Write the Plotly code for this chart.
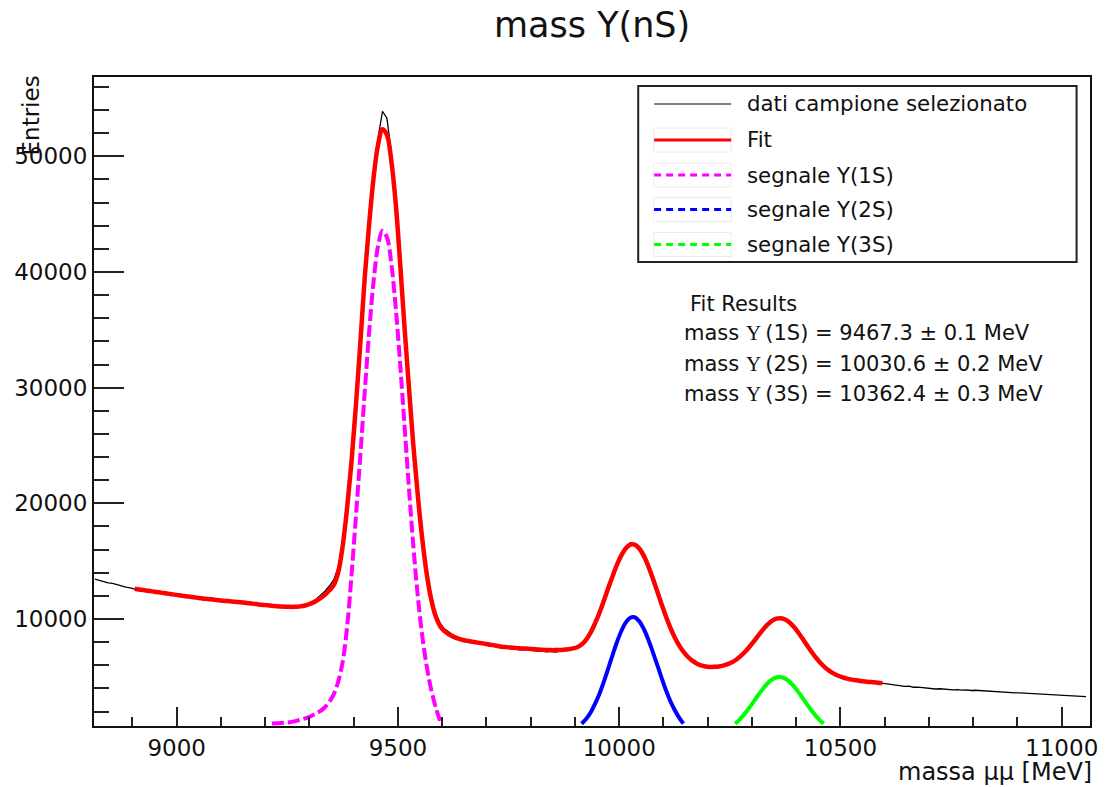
import plotly.graph_objects as go

# ---------------- data ----------------
# selected sample, 10 MeV bins starting at 8815 MeV (bin centres)
data_start = 8815
data_step = 10
data_counts = [
    13450, 13330, 13270, 13120, 13080, 12960, 12900, 12760, 12700, 12580,
    12590, 12470, 12480, 12390, 12360, 12250, 12300, 12160, 12120, 12060,
    11940, 12010, 11870, 11880, 11760, 11780, 11650, 11700, 11560, 11600,
    11520, 11560, 11450, 11490, 11380, 11400, 11300, 11270, 11230, 11150,
    11160, 11060, 11100, 11010, 11080, 10990, 11090, 11160, 11300, 11450,
    11700, 12050, 12400, 12850, 13400, 14500, 16700, 19900, 23800, 28600,
    34000, 39800, 44600, 48600, 51600, 53900, 53300, 50300, 46300, 41000,
    35300, 30200, 25200, 21000, 17300, 14300, 12100, 10550, 9650, 9150,
    8850, 8600, 8400, 8220, 8150, 8010, 8020, 7900, 7880, 7780,
    7700, 7620, 7560, 7470, 7420, 7400, 7330, 7350, 7290, 7260,
    7230, 7240, 7170, 7200, 7150, 7210, 7250, 7340, 7440, 7570,
    7850, 8230, 8760, 9650, 10480, 11600, 12620, 13750, 14680, 15580,
    16150, 16600, 16480, 16150, 15450, 14700, 13580, 12550, 11320, 10300,
    9350, 8420, 7780, 7120, 6760, 6380, 6120, 6020, 5880, 5830,
    5890, 5870, 6000, 6070, 6300, 6480, 6850, 7160, 7650, 8080,
    8640, 9050, 9540, 9800, 10080, 10120, 9930, 9720, 9270, 8840,
    8230, 7730, 7120, 6670, 6170, 5850, 5490, 5300, 5060, 4970,
    4820, 4790, 4680, 4660, 4580, 4590, 4510, 4500, 4440, 4400,
    4330, 4260, 4220, 4170, 4190, 4100, 4110, 4060, 4020, 4010,
    3950, 3970, 3920, 3910, 3880, 3900, 3850, 3870, 3820, 3840,
    3810, 3780, 3800, 3730, 3700, 3720, 3660, 3650, 3620, 3610,
    3590, 3560, 3570, 3530, 3520, 3520, 3470, 3460, 3440, 3420,
    3400, 3380, 3360, 3330, 3290,
]

# total fit, sampled every 10 MeV from 8905 MeV
fit_start = 8905
fit_step = 10
fit_counts = [
    12610, 12550, 12500, 12440, 12390, 12330, 12280, 12220, 12170, 12110,
    12050, 12000, 11950, 11900, 11850, 11790, 11750, 11710, 11670, 11620,
    11580, 11550, 11510, 11480, 11440, 11400, 11360, 11310, 11260, 11220,
    11180, 11140, 11110, 11080, 11060, 11050, 11050, 11070, 11120, 11220,
    11370, 11560, 11800, 12090, 12480, 12950, 14050, 16300, 19600, 23600,
    28500, 33900, 39600, 44200, 48200, 51000, 52350, 51850, 49600, 45900,
    40700, 35100, 29900, 24900, 20600, 16900, 13900, 11700, 10250, 9400,
    8950, 8680, 8480, 8330, 8210, 8120, 8050, 7990, 7930, 7870,
    7800, 7740, 7670, 7610, 7570, 7530, 7500, 7470, 7450, 7430,
    7400, 7370, 7340, 7320, 7310, 7310, 7320, 7340, 7390, 7460,
    7560, 7800, 8200, 8800, 9600, 10500, 11550, 12650, 13700, 14700,
    15520, 16120, 16430, 16430, 16110, 15500, 14640, 13610, 12500, 11370,
    10280, 9300, 8450, 7740, 7170, 6735, 6400, 6160, 5990, 5900,
    5860, 5865, 5901, 5974, 6092, 6264, 6502, 6809, 7187, 7625,
    8107, 8604, 9083, 9506, 9830, 10026, 10071, 9958, 9694, 9302,
    8811, 8264, 7699, 7149, 6643, 6197, 5822, 5516, 5276, 5090,
    4949, 4843, 4762, 4699, 4648, 4604, 4564, 4528, 4490, 4456,
]

# Y(1S) signal, every 10 MeV from 9215 MeV
s1_start = 9215
s1_counts = [960, 985, 1010, 1040, 1080, 1150, 1250, 1350, 1480, 1640,
             1840, 2050, 2370, 2850, 3500, 4600, 6300, 9300, 13800, 18900,
             24200, 29700, 34900, 39250, 42260, 43560, 43000, 40700, 36900, 32000,
             26600, 21200, 16200, 11900, 8500, 5900, 3900, 2400, 1200]

# Y(2S) signal, every 10 MeV from 9915 MeV
s2_start = 9915
s2_counts = [950, 1350, 1900, 2650, 3500, 4550, 5700, 6885, 8010, 8985,
             9710, 10110, 10150, 9820, 9180, 8300, 7250, 6150, 5000, 3900,
             2950, 2150, 1500, 950]

# Y(3S) signal, every 10 MeV from 10262 MeV
s3_start = 10262
s3_counts = [956, 1307, 1733, 2220, 2752, 3301, 3830, 4301, 4671, 4908,
             4990, 4908, 4671, 4301, 3830, 3301, 2752, 2220, 1733, 1307, 956]

legend_labels = ["dati campione selezionato", "Fit", "segnale Y(1S)",
                 "segnale Y(2S)", "segnale Y(3S)"]
fit_title = "Fit Results"
UPS = "<span style=\"font-family:'Liberation Serif'\">Υ</span>\u2009"
fit_lines = ["mass " + UPS + "(1S) = 9467.3 ± 0.1 MeV",
             "mass " + UPS + "(2S) = 10030.6 ± 0.2 MeV",
             "mass " + UPS + "(3S) = 10362.4 ± 0.3 MeV"]


def grid(start, step, values):
    return [start + step * i for i in range(len(values))]


# ---------------- figure ----------------
W, H = 1110, 787
L, R, T, B = 94, 1096, 77, 726
FONT = "DejaVu Sans"


def px(x):
    return (x - L) / (R - L)


def py(y):
    return (B - y) / (B - T)


fig = go.Figure()
fig.add_trace(go.Scatter(x=grid(data_start, data_step, data_counts), y=data_counts,
                         mode="lines", line=dict(color="black", width=1.3),
                         showlegend=False, name=legend_labels[0]))
fig.add_trace(go.Scatter(x=grid(fit_start, fit_step, fit_counts), y=fit_counts,
                         mode="lines",
                         line=dict(color="#ff0000", width=4.5, shape="spline"),
                         showlegend=False, name=legend_labels[1]))
fig.add_trace(go.Scatter(x=grid(s1_start, 10, s1_counts), y=s1_counts, mode="lines",
                         line=dict(color="#ff00ff", width=4, shape="spline",
                                   dash="12px,4px"),
                         showlegend=False, name=legend_labels[2]))
fig.add_trace(go.Scatter(x=grid(s2_start, 10, s2_counts), y=s2_counts, mode="lines",
                         line=dict(color="#0000ff", width=4, shape="spline"),
                         showlegend=False, name=legend_labels[3]))
fig.add_trace(go.Scatter(x=grid(s3_start, 10, s3_counts), y=s3_counts, mode="lines",
                         line=dict(color="#00ff00", width=4, shape="spline"),
                         showlegend=False, name=legend_labels[4]))

shapes = []
annotations = []

# legend box
shapes.append(dict(type="rect", xref="paper", yref="paper",
                   x0=px(641.5), x1=px(1082.5), y0=py(262), y1=py(86),
                   line=dict(color="#222", width=2), fillcolor="white", layer="above"))
row_y = [104, 140, 175, 209.5, 244.5]
styles = [dict(color="black", width=1.2, dash="solid"),
          dict(color="#ff0000", width=3, dash="solid"),
          dict(color="#ff00ff", width=3, dash="7px,5px"),
          dict(color="#0000ff", width=3, dash="7px,5px"),
          dict(color="#00ff00", width=3, dash="7px,5px")]
for i, (yy, st, lab) in enumerate(zip(row_y, styles, legend_labels)):
    if i > 0:
        shapes.append(dict(type="rect", xref="paper", yref="paper",
                           x0=px(657), x1=px(735), y0=py(yy + 12), y1=py(yy - 12),
                           line=dict(color="#ececec", width=1), layer="above"))
    shapes.append(dict(type="line", xref="paper", yref="paper",
                       x0=px(657.5), x1=px(735), y0=py(yy), y1=py(yy),
                       line=st, layer="above"))
    annotations.append(dict(text=lab, xref="paper", yref="paper", x=px(749), y=py(yy),
                            xanchor="left", yanchor="middle", showarrow=False,
                            font=dict(family=FONT, size=21.3, color="#111")))

# fit results text
annotations.append(dict(text=fit_title, xref="paper", yref="paper", x=px(692), y=py(304),
                        xanchor="left", yanchor="middle", showarrow=False,
                        font=dict(family=FONT, size=21, color="#111")))
for yy, t in zip([333, 364, 394], fit_lines):
    annotations.append(dict(text=t, xref="paper", yref="paper", x=px(686), y=py(yy),
                            xanchor="left", yanchor="middle", showarrow=False,
                            font=dict(family=FONT, size=21, color="#111")))

# title
annotations.append(dict(text="mass Y(nS)", xref="paper", yref="paper", x=0.5, y=py(25),
                        xanchor="center", yanchor="middle", showarrow=False,
                        font=dict(family=FONT, size=35, color="#111")))
# axis titles
annotations.append(dict(text="massa μμ [MeV]", xref="paper", yref="paper", x=px(1100), y=py(756),
                        xanchor="right", yanchor="top", showarrow=False,
                        font=dict(family=FONT, size=24, color="#111")))
annotations.append(dict(text="Entries", xref="paper", yref="paper", x=px(16), y=py(73),
                        xanchor="left", yanchor="top", textangle=-90, showarrow=False,
                        font=dict(family=FONT, size=23, color="#111")))

fig.update_layout(
    width=W, height=H, autosize=False,
    margin=dict(l=L, r=W - R, t=T, b=H - B),
    paper_bgcolor="white", plot_bgcolor="white",
    font=dict(family=FONT, size=23, color="#111"),
    showlegend=False,
    shapes=shapes, annotations=annotations,
)
fig.update_xaxes(range=[8813, 11064], showgrid=False, zeroline=False,
                 showline=True, linecolor="#111", linewidth=2, mirror=True,
                 ticks="inside", ticklen=19, tickwidth=1.6, tickcolor="#222",
                 tick0=9000, dtick=500, tickformat="d",
                 tickfont=dict(family=FONT, size=23, color="#111"),
                 minor=dict(ticks="inside", ticklen=9, tickwidth=1.6, tickcolor="#222",
                            dtick=100, tick0=9000))
fig.update_yaxes(range=[750, 56860], showgrid=False, zeroline=False,
                 showline=True, linecolor="#111", linewidth=2, mirror=True,
                 ticks="inside", ticklen=30, tickwidth=1.6, tickcolor="#222",
                 tick0=0, dtick=10000, tickformat="d",
                 tickfont=dict(family=FONT, size=23, color="#111"),
                 minor=dict(ticks="inside", ticklen=15, tickwidth=1.6, tickcolor="#222",
                            dtick=2000, tick0=0))

fig.write_html("out.html")
